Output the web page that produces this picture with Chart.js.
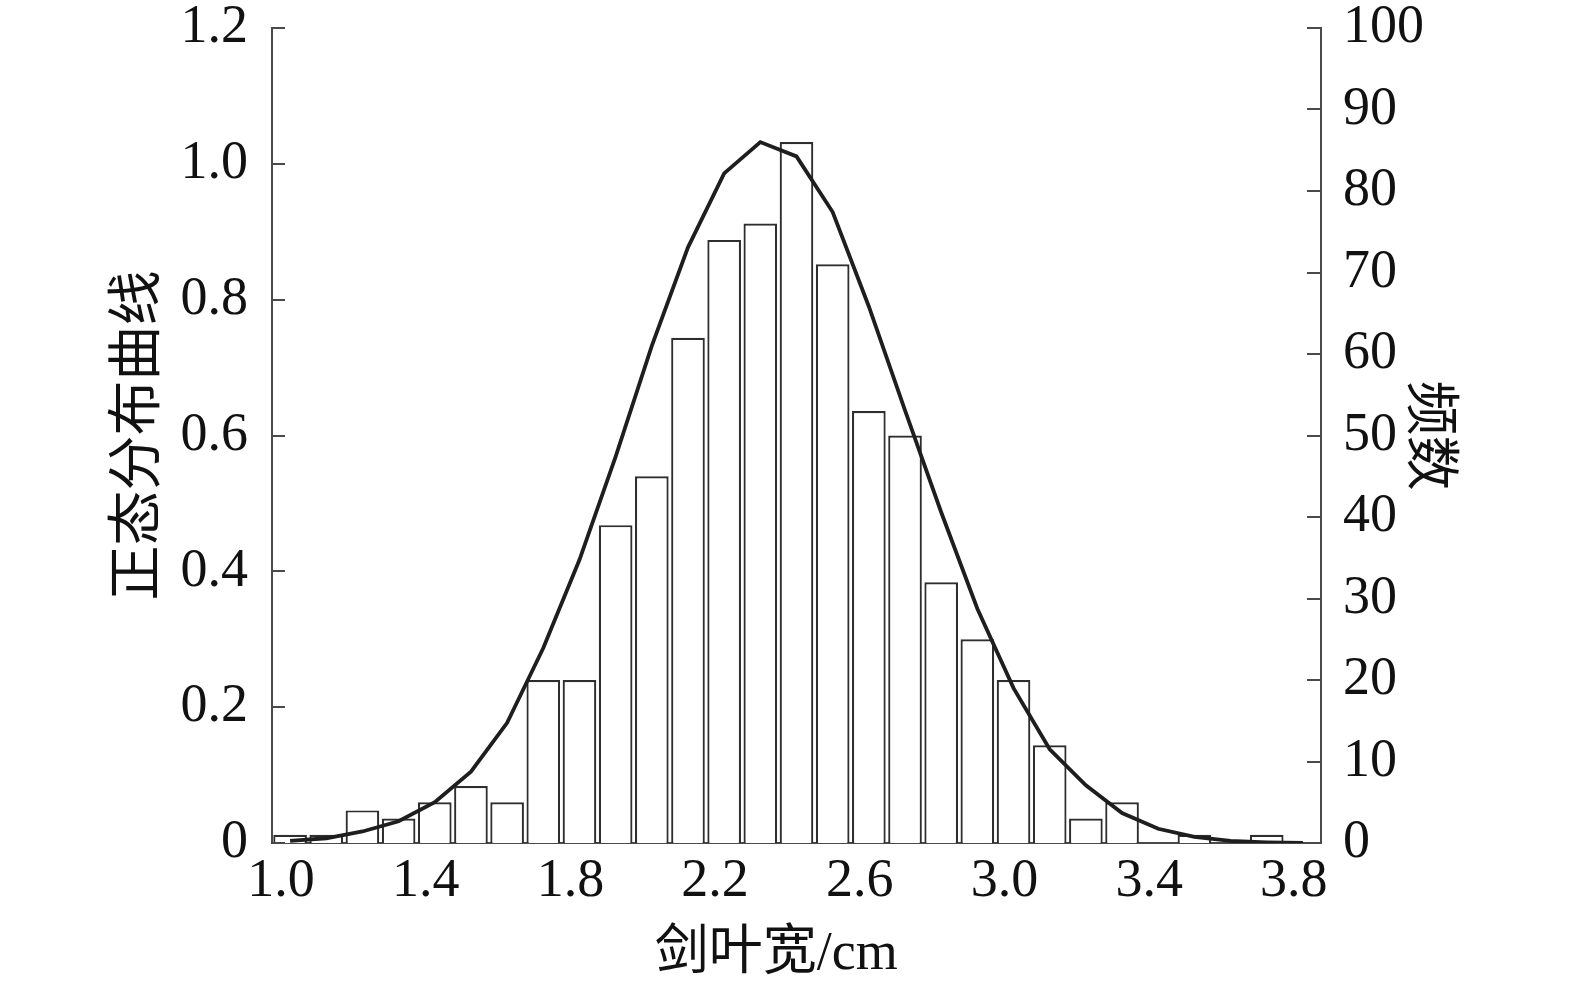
<!DOCTYPE html>
<html>
<head>
<meta charset="utf-8">
<script src="https://cdn.jsdelivr.net/npm/chart.js@4.4.1/dist/chart.umd.min.js"></script>
<style>
  html, body { margin: 0; padding: 0; background: #ffffff; }
  #wrap { width: 1575px; height: 982px; }
</style>
</head>
<body>
<div id="wrap"><canvas id="c" width="1575" height="982"></canvas></div>
<script>
// bin centres (剑叶宽, cm)
const binCenters = [1.025, 1.125, 1.225, 1.325, 1.425, 1.525, 1.625, 1.725, 1.825, 1.925,
                    2.025, 2.125, 2.225, 2.325, 2.425, 2.525, 2.625, 2.725, 2.825, 2.925,
                    3.025, 3.125, 3.225, 3.325, 3.425, 3.525, 3.625, 3.725, 3.825];
// 频数 (frequency) per bin
const counts = [1, 1, 4, 3, 5, 7, 5, 20, 20, 39,
                45, 62, 74, 76, 86, 71, 53, 50, 32, 25,
                20, 12, 3, 5, null, 1, null, 1, null];
// 正态分布曲线 values read at each bin centre
const curve = [0.003, 0.007, 0.017, 0.032, 0.060, 0.105, 0.177, 0.287, 0.417, 0.569,
               0.732, 0.877, 0.986, 1.032, 1.011, 0.929, 0.790, 0.637, 0.487, 0.345,
               0.228, 0.138, 0.085, 0.044, 0.021, 0.009, 0.003, 0.001, 0.000];
// axis tick labels
const xTicks = [1.0, 1.4, 1.8, 2.2, 2.6, 3.0, 3.4, 3.8];
const leftTicks = [0, 0.2, 0.4, 0.6, 0.8, 1.0, 1.2];
const rightTicks = [0, 10, 20, 30, 40, 50, 60, 70, 80, 90, 100];

const FONT = '"Liberation Serif", "Noto Sans CJK SC", serif';
const AXIS = '#4a4a4a';

const inwardTicks = {
  id: 'inwardTicks',
  afterDatasetsDraw(chart) {
    const ctx = chart.ctx;
    ctx.save();
    ctx.strokeStyle = AXIS;
    ctx.lineWidth = 2;
    const yl = chart.scales.y, yr = chart.scales.y1;
    yl.ticks.forEach(t => {
      const py = Math.round(yl.getPixelForValue(t.value));
      ctx.beginPath(); ctx.moveTo(yl.right, py); ctx.lineTo(yl.right + 13, py); ctx.stroke();
    });
    yr.ticks.forEach(t => {
      const py = Math.round(yr.getPixelForValue(t.value));
      ctx.beginPath(); ctx.moveTo(yr.left, py); ctx.lineTo(yr.left - 14, py); ctx.stroke();
    });
    ctx.restore();
  }
};

new Chart(document.getElementById('c'), {
  type: 'bar',
  data: {
    datasets: [
      {
        type: 'line',
        data: binCenters.map((x, i) => ({ x: x, y: curve[i] })),
        yAxisID: 'y',
        xAxisID: 'x',
        borderColor: '#1e1e1e',
        borderWidth: 3.8,
        pointRadius: 0,
        tension: 0,
        fill: false,
        order: 0
      },
      {
        type: 'bar',
        data: binCenters.map((x, i) => ({ x: x, y: counts[i] })),
        yAxisID: 'y1',
        xAxisID: 'x',
        backgroundColor: '#ffffff',
        borderColor: '#2e2e2e',
        borderWidth: 2.2,
        categoryPercentage: 1.0,
        barPercentage: 0.93,
        order: 1
      }
    ]
  },
  options: {
    responsive: false,
    animation: false,
    devicePixelRatio: 1,
    layout: { padding: { top: 28, left: 0, right: 0, bottom: 0 } },
    plugins: { legend: { display: false }, tooltip: { enabled: false } },
    scales: {
      x: {
        type: 'linear',
        position: 'bottom',
        min: 0.975,
        max: 3.875,
        offset: false,
        afterBuildTicks: s => { s.ticks = xTicks.map(v => ({ value: v })); },
        afterFit: s => { s.height = 139; s.paddingLeft = 0; s.paddingRight = 0; },
        grid: { display: false, drawTicks: false },
        border: { display: true, color: AXIS, width: 2 },
        ticks: {
          padding: 12,
          color: '#111',
          font: { family: FONT, size: 54, lineHeight: 1 },
          maxRotation: 0,
          autoSkip: false,
          callback: v => Number(v).toFixed(1)
        },
        title: {
          display: true,
          text: '剑叶宽/cm   ',
          color: '#111',
          font: { family: FONT, size: 54, lineHeight: 1 },
          padding: { top: 10, bottom: 0 }
        }
      },
      y: {
        type: 'linear',
        position: 'left',
        min: 0,
        max: 1.2,
        afterBuildTicks: s => { s.ticks = leftTicks.map(v => ({ value: v })); },
        afterFit: s => { s.width = 272; s.paddingTop = 0; s.paddingBottom = 0; },
        grid: { display: false, drawTicks: false },
        border: { display: true, color: AXIS, width: 2 },
        ticks: {
          padding: 24,
          color: '#111',
          font: { family: FONT, size: 54, lineHeight: 1 },
          callback: v => (v === 0 ? '0' : Number(v).toFixed(1))
        },
        title: {
          display: true,
          text: '正态分布曲线',
          color: '#111',
          font: { family: FONT, size: 55, lineHeight: 1 },
          padding: { top: 112, bottom: 0 }
        }
      },
      y1: {
        type: 'linear',
        position: 'right',
        min: 0,
        max: 100,
        afterBuildTicks: s => { s.ticks = rightTicks.map(v => ({ value: v })); },
        afterFit: s => { s.width = 254; s.paddingTop = 0; s.paddingBottom = 0; },
        grid: { display: false, drawTicks: false },
        border: { display: true, color: AXIS, width: 2 },
        ticks: {
          padding: 22,
          color: '#111',
          font: { family: FONT, size: 54, lineHeight: 1 },
          callback: v => String(v)
        },
        title: {
          display: true,
          text: '频数',
          color: '#111',
          font: { family: FONT, size: 55, lineHeight: 1 },
          padding: { top: 120, bottom: 0 }
        }
      }
    }
  },
  plugins: [inwardTicks]
});
</script>
</body>
</html>
